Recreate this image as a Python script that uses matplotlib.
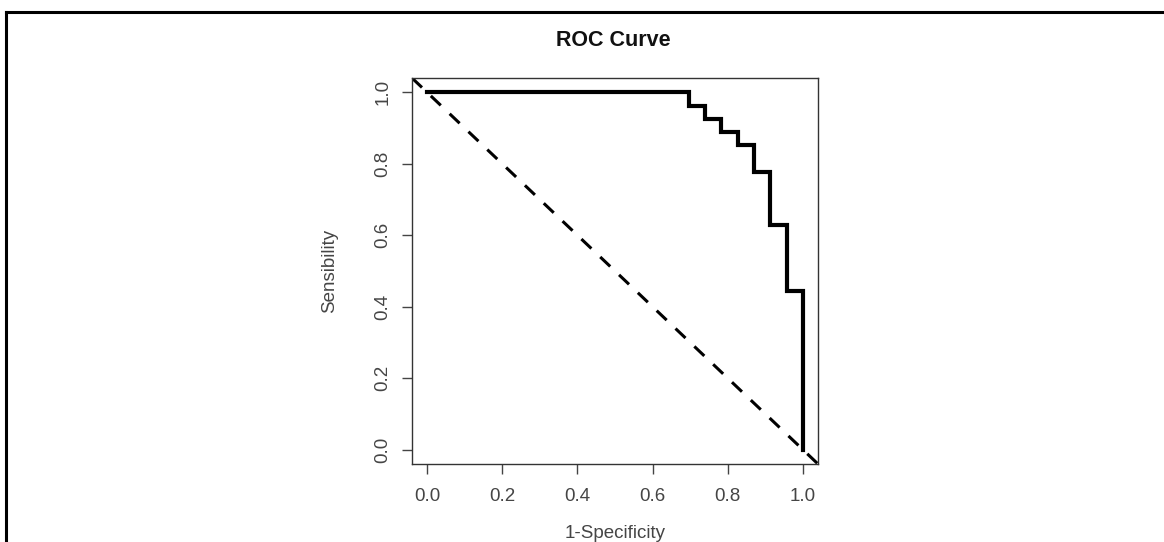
import numpy as np
import matplotlib
matplotlib.use("Agg")
import matplotlib.pyplot as plt
from matplotlib.lines import Line2D

plt.rcParams['font.family'] = ['Liberation Sans', 'DejaVu Sans']

# ROC steps
fpr = [0.0, 0.696, 0.696, 0.739, 0.739, 0.783, 0.783, 0.826, 0.826,
       0.870, 0.870, 0.913, 0.913, 0.957, 0.957, 1.0, 1.0]
tpr = [1.0, 1.0, 0.963, 0.963, 0.926, 0.926, 0.889, 0.889, 0.852,
       0.852, 0.778, 0.778, 0.630, 0.630, 0.444, 0.444, 0.0]
ticks = [0.0, 0.2, 0.4, 0.6, 0.8, 1.0]
tick_labels = ["0.0", "0.2", "0.4", "0.6", "0.8", "1.0"]

W, H = 1164, 542
fig = plt.figure(figsize=(W / 100, H / 100), dpi=100)
ax = fig.add_axes([412 / W, 1 - 464 / H, 406 / W, 386 / H])

ax.plot(fpr, tpr, color='black', linewidth=3, solid_joinstyle='miter')
ax.axline((0, 1), slope=-1, color='black', linewidth=2.2, linestyle=(0, (4.5, 4)))

ax.set_xlim(-0.04, 1.04)
ax.set_ylim(-0.04, 1.04)
ax.set_xticks(ticks)
ax.set_xticklabels(tick_labels)
ax.set_yticks(ticks)
ax.set_yticklabels(tick_labels, rotation=90, va='center')
ax.tick_params(direction='out', length=7, width=1, color='#444444',
               labelsize=13.5, labelcolor='#454545', pad=8)
ax.tick_params(axis='x', pad=10)
for s in ax.spines.values():
    s.set_color('#333333')
    s.set_linewidth(1)

fig.text(613 / W, 1 - 40 / H, "ROC Curve", ha='center', va='center',
         fontsize=15.5, fontweight='bold', color='#111111')
fig.text(615 / W, 1 - 533 / H, "1-Specificity", ha='center', va='center',
         fontsize=13.5, color='#454545')
fig.text(330 / W, 1 - 271 / H, "Sensibility", ha='center', va='center',
         rotation=90, fontsize=13.5, color='#454545')

# outer frame (top and left edges visible)
fig.add_artist(Line2D([6 / W, 1], [1 - 12 / H, 1 - 12 / H], color='black', linewidth=2.2))
fig.add_artist(Line2D([6 / W, 6 / W], [0, 1 - 12 / H], color='black', linewidth=2.2))

fig.savefig("out.png", dpi=100)
